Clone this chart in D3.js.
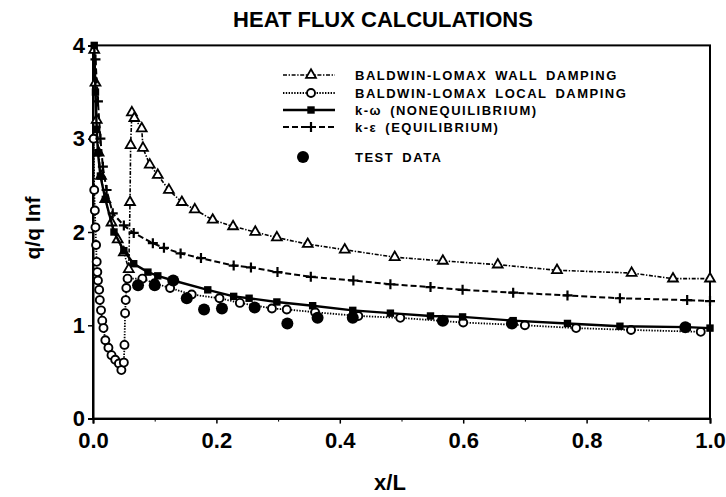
<!DOCTYPE html>
<html><head><meta charset="utf-8">
<script src="https://cdn.jsdelivr.net/npm/d3@7"></script>
<style>
body{margin:0;background:#fff;}
text{font-family:"Liberation Sans",Arial,Helvetica,sans-serif;font-weight:bold;fill:#000;}
</style></head>
<body><svg id="c" width="726" height="497"></svg>
<script>
// ---- data (x/L, q/q inf) ----
const wallX = [0.002,0.004,0.006,0.009,0.013,0.020,0.030,0.040,0.050,0.058,0.060,0.061,0.063,0.067,0.079,0.081,0.092,0.105,0.123,0.144,0.165,0.194,0.227,0.263,0.298,0.348,0.408,0.489,0.567,0.656,0.752,0.873,0.940,1.000];
const wallY = [3.95,3.6,3.2,2.85,2.6,2.35,2.1,1.92,1.78,1.60,2.32,2.93,3.28,3.22,3.11,2.90,2.72,2.61,2.45,2.32,2.24,2.13,2.06,2.00,1.94,1.87,1.81,1.73,1.69,1.65,1.59,1.56,1.50,1.50];

const localX = [0.001,0.002,0.003,0.004,0.005,0.006,0.007,0.008,0.010,0.011,0.013,0.015,0.017,0.020,0.025,0.030,0.036,0.042,0.046,0.050,0.051,0.052,0.053,0.054,0.056,0.080,0.100,0.125,0.160,0.205,0.238,0.290,0.314,0.360,0.430,0.498,0.600,0.700,0.783,0.872,0.985];
const localY = [3.0,2.45,2.23,2.05,1.86,1.68,1.57,1.48,1.38,1.27,1.16,1.05,0.97,0.84,0.76,0.68,0.63,0.59,0.52,0.60,0.79,1.13,1.27,1.40,1.50,1.50,1.45,1.40,1.33,1.29,1.24,1.18,1.17,1.14,1.10,1.08,1.03,1.00,0.97,0.95,0.93];

const kwX = [0.002,0.004,0.006,0.008,0.012,0.020,0.034,0.050,0.066,0.089,0.105,0.130,0.186,0.228,0.253,0.298,0.356,0.421,0.482,0.547,0.599,0.681,0.769,0.854,0.963,1.000];
const kwY = [4.0,3.5,3.1,2.85,2.6,2.35,2.0,1.80,1.66,1.57,1.53,1.48,1.38,1.31,1.29,1.25,1.21,1.16,1.13,1.10,1.09,1.05,1.02,0.99,0.98,0.97];

const keX = [0.004,0.008,0.012,0.016,0.022,0.032,0.050,0.066,0.097,0.115,0.142,0.175,0.228,0.256,0.299,0.353,0.422,0.482,0.547,0.599,0.681,0.769,0.854,0.963,1.000];
const keY = [3.85,3.4,3.0,2.7,2.45,2.2,2.07,1.99,1.88,1.83,1.77,1.72,1.64,1.62,1.57,1.52,1.48,1.44,1.41,1.38,1.35,1.32,1.29,1.27,1.26];

const testX = [0.073,0.100,0.130,0.152,0.180,0.209,0.262,0.315,0.364,0.421,0.567,0.679,0.960];
const testY = [1.43,1.43,1.48,1.29,1.17,1.18,1.19,1.02,1.08,1.08,1.05,1.02,0.98];

const xTicks = [0,0.2,0.4,0.6,0.8,1.0];
const xMinor = [0.1,0.3,0.5,0.7,0.9];
const yTicks = [0,1,2,3,4];

const legendLabels = ["BALDWIN-LOMAX WALL DAMPING","BALDWIN-LOMAX LOCAL DAMPING","k-\u03c9 (NONEQUILIBRIUM)","k-\u03b5 (EQUILIBRIUM)","TEST DATA"];

// ---- drawing ----
const svg = d3.select("#c");
const x = d3.scaleLinear().domain([0,1]).range([93,710]);
const y = d3.scaleLinear().domain([0,4]).range([418.6,45.4]);

svg.append("text").attr("x",383).attr("y",27).attr("text-anchor","middle")
  .style("font-size","22px").text("HEAT FLUX CALCULATIONS");

// frame
svg.append("rect").attr("x",x(0)).attr("y",y(4)).attr("width",x(1)-x(0)).attr("height",y(0)-y(4))
  .attr("fill","none").attr("stroke","#000").attr("stroke-width",2);

const gx = svg.append("g").attr("transform",`translate(0,${y(0)})`)
  .call(d3.axisBottom(x).tickValues(xTicks).tickFormat(d3.format(".1f")).tickSize(5).tickPadding(9));
gx.select(".domain").attr("stroke-width",2);
gx.selectAll("text").style("font-size","22px").attr("font-family",null);
svg.append("g").attr("transform",`translate(0,${y(0)})`)
  .call(d3.axisBottom(x).tickValues(xMinor).tickFormat("").tickSize(3))
  .select(".domain").remove();

const gy = svg.append("g").attr("transform",`translate(${x(0)},0)`)
  .call(d3.axisLeft(y).tickValues(yTicks).tickFormat(d3.format("d")).tickSize(5).tickPadding(3));
gy.select(".domain").attr("stroke-width",2);
gy.selectAll("text").style("font-size","22px").attr("font-family",null);
gx.selectAll("line").attr("stroke-width",1.5);
gy.selectAll("line").attr("stroke-width",1.5);

svg.append("text").attr("transform","translate(40,228) rotate(-90)").attr("text-anchor","middle")
  .style("font-size","21px").text("q/q Inf");
svg.append("text").attr("x",390).attr("y",490).attr("text-anchor","middle")
  .style("font-size","22px").text("x/L");

// series
const series = [
  {xs:wallX, ys:wallY, dash:"4,1.6,1.4,1.6", w:1.6, marker:"tri"},
  {xs:localX, ys:localY, dash:"1.4,1.4", w:1.8, marker:"circ"},
  {xs:kwX, ys:kwY, dash:null, w:2.4, marker:"sq"},
  {xs:keX, ys:keY, dash:"6,3", w:2, marker:"plus"}
];
const line = d3.line().x(d=>x(d[0])).y(d=>y(d[1]));

function drawMarker(g, type, px, py){
  if(type==="tri"){
    g.append("path").attr("d",d3.symbol(d3.symbolTriangle,42)()).attr("transform",`translate(${px},${py})`)
      .attr("fill","#fff").attr("stroke","#000").attr("stroke-width",1.8);
  } else if(type==="circ"){
    g.append("circle").attr("cx",px).attr("cy",py).attr("r",4).attr("fill","#fff").attr("stroke","#000").attr("stroke-width",1.9);
  } else if(type==="sq"){
    g.append("rect").attr("x",px-3.7).attr("y",py-3.7).attr("width",7.4).attr("height",7.4).attr("fill","#000");
  } else if(type==="plus"){
    g.append("path").attr("d",`M${px-5},${py}H${px+5}M${px},${py-5}V${py+5}`).attr("stroke","#000").attr("stroke-width",2.2);
  } else if(type==="dot"){
    g.append("circle").attr("cx",px).attr("cy",py).attr("r",6).attr("fill","#000");
  }
}

const gs = svg.append("g");
series.forEach(s=>{
  const pts = s.xs.map((v,i)=>[v,s.ys[i]]);
  gs.append("path").attr("d",line(pts)).attr("fill","none").attr("stroke","#000")
    .attr("stroke-width",s.w).attr("stroke-dasharray",s.dash);
  pts.forEach(p=>drawMarker(gs,s.marker,x(p[0]),y(p[1])));
});
testX.forEach((v,i)=>drawMarker(gs,"dot",x(v),y(testY[i])));

// legend
const legRows = [75,93,110,127,157];
const lg = svg.append("g");
series.forEach((s,i)=>{
  lg.append("line").attr("x1",283).attr("x2",335).attr("y1",legRows[i]).attr("y2",legRows[i])
    .attr("stroke","#000").attr("stroke-width",s.w).attr("stroke-dasharray",s.dash);
  drawMarker(lg,s.marker,311,legRows[i]);
});
drawMarker(lg,"dot",303,legRows[4]);
legendLabels.forEach((t,i)=>{
  lg.append("text").attr("x",355).attr("y",legRows[i]+5).style("font-size","13px")
    .style("letter-spacing","1.5px").style("word-spacing","3px").text(t);
});
</script></body></html>
